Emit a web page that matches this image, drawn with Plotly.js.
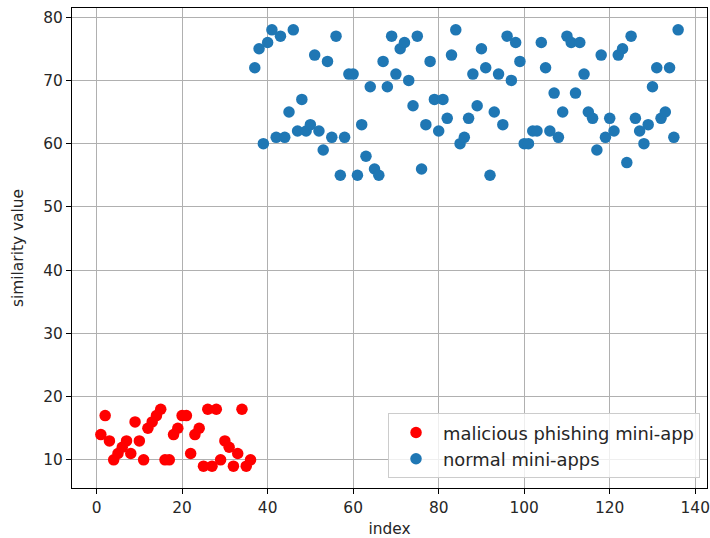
<!DOCTYPE html>
<html>
<head>
<meta charset="utf-8">
<script src="https://cdn.plot.ly/plotly-3.0.1.min.js"></script>
<style>html,body{margin:0;padding:0;background:#fff;}#chart{width:710px;height:538px;}</style>
</head>
<body>
<div id="chart"></div>
<script>
const maliciousIndex = [1,2,3,4,5,6,7,8,9,10,11,12,13,14,15,16,17,18,19,20,21,22,23,24,25,26,27,28,29,30,31,32,33,34,35,36];
const maliciousValues = [14,17,13,10,11,12,13,11,16,13,10,15,16,17,18,10,10,14,15,17,17,11,14,15,9,18,9,18,10,13,12,9,11,18,9,10];

const normalIndex = [37,38,39,40,41,42,43,44,45,46,47,48,49,50,51,52,53,54,55,56,57,58,59,60,61,62,63,64,65,66,67,68,69,70,71,72,73,74,75,76,77,78,79,80,81,82,83,84,85,86,87,88,89,90,91,92,93,94,95,96,97,98,99,100,101,102,103,104,105,106,107,108,109,110,111,112,113,114,115,116,117,118,119,120,121,122,123,124,125,126,127,128,129,130,131,132,133,134,135,136];
const normalValues = [72,75,60,76,78,61,77,61,65,78,62,67,62,63,74,62,59,73,61,77,55,61,71,71,55,63,58,69,56,55,73,69,77,71,75,76,70,66,77,56,63,73,67,62,67,64,74,78,60,61,64,71,66,75,72,55,65,71,63,77,70,76,73,60,60,62,62,76,72,62,68,61,65,77,76,68,76,71,65,64,59,74,61,64,62,74,75,57,77,64,62,60,63,69,72,64,65,72,61,78];

const seriesNames = ['malicious phishing mini-app', 'normal mini-apps'];
const xTicks = [0,20,40,60,80,100,120,140];
const yTicks = [10,20,30,40,50,60,70,80];

const font = {family: 'DejaVu Sans, sans-serif', size: 15.4, color: '#262626'};
const legendFont = {family: 'DejaVu Sans, sans-serif', size: 17.9, color: '#262626'};

const traces = [
  {x: maliciousIndex, y: maliciousValues, type: 'scatter', mode: 'markers', name: seriesNames[0],
   marker: {color: '#ff0000', size: 11.5, line: {width: 0}}},
  {x: normalIndex, y: normalValues, type: 'scatter', mode: 'markers', name: seriesNames[1],
   marker: {color: '#1f77b4', size: 11.5, line: {width: 0}}}
];

const axisCommon = {
  showline: true, mirror: true, linecolor: '#000', linewidth: 1.1,
  ticks: 'outside', ticklen: 5, tickwidth: 1.1, tickcolor: '#000',
  showgrid: true, gridcolor: '#b0b0b0', gridwidth: 1.1,
  zeroline: false, tickfont: font
};

const layout = {
  width: 710, height: 538,
  margin: {l: 72, r: 3, t: 8, b: 50},
  paper_bgcolor: '#fff', plot_bgcolor: '#fff',
  font: font,
  showlegend: true,
  legend: {
    x: 0.989, y: 0.02, xanchor: 'right', yanchor: 'bottom',
    bgcolor: 'rgba(255,255,255,0.8)', bordercolor: '#cccccc', borderwidth: 1,
    font: legendFont, itemwidth: 44
  },
  xaxis: Object.assign({}, axisCommon, {
    range: [-5.75, 142.75], tickvals: xTicks, ticktext: xTicks.map(String),
    title: {text: 'index', font: font, standoff: 11}
  }),
  yaxis: Object.assign({}, axisCommon, {
    range: [5.55, 81.45], tickvals: yTicks, ticktext: yTicks.map(String),
    title: {text: 'similarity value', font: font, standoff: 15}
  })
};

Plotly.newPlot('chart', traces, layout, {displayModeBar: false, staticPlot: true});
</script>
</body>
</html>
